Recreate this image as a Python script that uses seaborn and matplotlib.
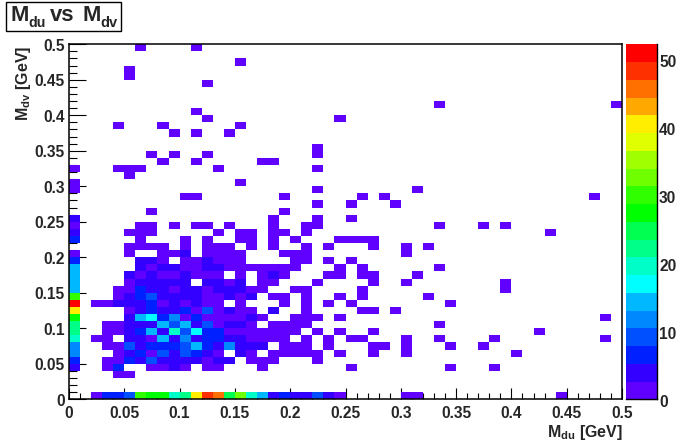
import numpy as np
import pandas as pd
import seaborn as sns
import matplotlib
matplotlib.use("Agg")
import matplotlib.pyplot as plt
from matplotlib.colors import ListedColormap
from matplotlib.patches import Rectangle
from matplotlib.transforms import ScaledTranslation

# ==============================
# DATA: counts per Mdu bin, one dict per Mdv bin (bin 00 = bottom)
# ==============================

mdv_bin_49 = {6: 1, 11: 1}
mdv_bin_48 = {}
mdv_bin_47 = {15: 1}
mdv_bin_46 = {5: 1}
mdv_bin_45 = {5: 1}
mdv_bin_44 = {12: 1}
mdv_bin_43 = {}
mdv_bin_42 = {}
mdv_bin_41 = {33: 1, 49: 1}
mdv_bin_40 = {11: 1}
mdv_bin_39 = {12: 1, 24: 1}
mdv_bin_38 = {4: 1, 8: 1, 15: 1}
mdv_bin_37 = {9: 1, 11: 1, 14: 1}
mdv_bin_36 = {}
mdv_bin_35 = {22: 1}
mdv_bin_34 = {7: 1, 9: 1, 12: 1, 22: 1}
mdv_bin_33 = {8: 1, 11: 1, 17: 1, 18: 1}
mdv_bin_32 = {0: 1, 4: 1, 5: 1, 6: 1, 13: 1, 22: 1}
mdv_bin_31 = {5: 1}
mdv_bin_30 = {0: 1, 15: 1}
mdv_bin_29 = {0: 1, 22: 1, 31: 1}
mdv_bin_28 = {10: 1, 11: 1, 19: 1, 26: 1, 28: 1, 47: 1}
mdv_bin_27 = {22: 1, 25: 1, 29: 1}
mdv_bin_26 = {7: 1, 19: 1}
mdv_bin_25 = {0: 4, 18: 1, 22: 1, 25: 1}
mdv_bin_24 = {0: 1, 6: 1, 7: 1, 9: 1, 11: 1, 12: 1, 14: 1, 18: 1, 21: 1, 22: 1,
              33: 1, 37: 1, 39: 1}
mdv_bin_23 = {0: 3, 5: 1, 6: 1, 7: 1, 13: 1, 15: 1, 16: 1, 18: 1, 19: 1, 21: 1, 43: 1}
mdv_bin_22 = {0: 6, 6: 1, 10: 1, 12: 1, 15: 1, 16: 1, 18: 1, 20: 1, 24: 1, 25: 1,
              26: 1, 27: 1}
mdv_bin_21 = {5: 1, 6: 1, 7: 1, 8: 1, 10: 1, 12: 1, 13: 1, 14: 1, 16: 1, 18: 1,
              21: 1, 23: 1, 27: 1, 30: 1, 32: 1}
mdv_bin_20 = {0: 1, 5: 1, 8: 1, 9: 1, 10: 4, 12: 1, 13: 1, 14: 1, 15: 1, 19: 1,
              20: 1, 21: 1, 30: 1}
mdv_bin_19 = {0: 6, 6: 4, 7: 4, 8: 1, 10: 1, 11: 1, 12: 4, 13: 1, 14: 1, 15: 1,
              20: 1, 21: 1, 23: 1, 25: 1}
mdv_bin_18 = {0: 14, 6: 4, 7: 1, 8: 4, 9: 4, 10: 1, 11: 1, 12: 4, 13: 4, 14: 1,
              15: 1, 16: 1, 17: 1, 18: 1, 19: 1, 20: 1, 24: 1, 26: 1, 33: 1}
mdv_bin_17 = {0: 14, 5: 4, 6: 1, 7: 4, 8: 1, 9: 1, 10: 4, 11: 1, 12: 1, 13: 1,
              15: 1, 17: 1, 18: 4, 19: 1, 23: 1, 24: 1, 26: 1, 27: 1, 31: 1}
mdv_bin_16 = {0: 14, 5: 1, 6: 4, 7: 4, 8: 4, 9: 4, 10: 4, 12: 4, 13: 4, 14: 1,
              15: 4, 17: 1, 18: 1, 22: 1, 27: 1, 30: 1, 39: 1}
mdv_bin_15 = {0: 14, 4: 1, 5: 1, 6: 6, 7: 4, 8: 4, 9: 1, 10: 4, 11: 4, 12: 1,
              13: 4, 14: 4, 15: 4, 16: 1, 17: 1, 20: 1, 21: 1, 26: 1, 39: 1}
mdv_bin_14 = {0: 30, 4: 1, 5: 4, 6: 6, 7: 9, 8: 4, 9: 4, 10: 4, 11: 4, 12: 1,
              13: 1, 14: 4, 15: 1, 16: 4, 18: 1, 19: 1, 21: 1, 24: 1, 26: 1, 32: 1}
mdv_bin_13 = {0: 51, 2: 1, 3: 1, 4: 4, 5: 4, 6: 4, 7: 6, 8: 1, 9: 4, 10: 1,
              11: 4, 12: 1, 13: 1, 15: 1, 19: 1, 21: 1, 23: 1, 25: 1, 34: 1}
mdv_bin_12 = {0: 40, 5: 1, 6: 4, 7: 6, 8: 4, 9: 4, 10: 6, 11: 1, 12: 9, 13: 1,
              14: 4, 15: 1, 16: 1, 18: 4, 21: 1, 26: 1, 27: 1, 29: 1}
mdv_bin_11 = {0: 27, 5: 4, 6: 14, 7: 17, 8: 6, 9: 12, 10: 1, 11: 6, 12: 1, 13: 1,
              14: 1, 15: 1, 16: 4, 17: 1, 20: 1, 21: 1, 22: 1, 24: 1, 48: 1}
mdv_bin_10 = {0: 22, 3: 1, 4: 1, 5: 4, 6: 4, 7: 4, 8: 14, 9: 9, 10: 14, 11: 4,
              12: 9, 13: 1, 14: 4, 15: 4, 16: 1, 18: 1, 19: 1, 20: 1, 21: 1, 33: 1}
mdv_bin_09 = {0: 22, 3: 1, 4: 1, 5: 4, 6: 6, 7: 14, 8: 4, 9: 20, 10: 9, 11: 17,
              12: 6, 13: 6, 14: 1, 15: 1, 16: 1, 17: 1, 18: 1, 19: 1, 20: 1,
              22: 1, 24: 1, 27: 1, 42: 1}
mdv_bin_08 = {0: 20, 2: 1, 3: 1, 5: 4, 6: 4, 7: 1, 8: 14, 9: 4, 10: 12, 11: 4,
              12: 6, 13: 6, 14: 4, 15: 4, 16: 1, 17: 1, 18: 1, 19: 1, 21: 1,
              23: 1, 25: 1, 26: 1, 30: 1, 33: 1, 38: 1, 48: 1}
mdv_bin_07 = {0: 12, 3: 1, 4: 1, 5: 9, 6: 4, 7: 6, 8: 6, 9: 6, 10: 9, 11: 14,
              12: 6, 13: 4, 14: 12, 15: 4, 16: 4, 17: 4, 19: 1, 20: 1, 21: 1,
              23: 1, 27: 1, 28: 1, 30: 1, 34: 1, 37: 1}
mdv_bin_06 = {0: 12, 4: 1, 5: 4, 6: 6, 7: 1, 8: 9, 9: 4, 10: 9, 11: 6, 12: 4,
              13: 1, 15: 4, 16: 1, 18: 1, 19: 1, 20: 1, 21: 1, 22: 1, 24: 1,
              27: 1, 30: 1, 40: 1}
mdv_bin_05 = {0: 6, 3: 1, 4: 1, 5: 6, 6: 4, 7: 9, 8: 4, 9: 4, 10: 4, 11: 4, 12: 1,
              13: 4, 14: 4, 16: 1, 17: 1, 18: 1, 22: 1}
mdv_bin_04 = {0: 4, 3: 1, 4: 6, 7: 1, 8: 1, 9: 4, 10: 1, 12: 1, 13: 1, 17: 1,
              25: 1, 34: 1, 38: 1}
mdv_bin_03 = {4: 1, 5: 1}
mdv_bin_02 = {}
mdv_bin_01 = {}
mdv_bin_00 = {2: 1, 3: 6, 4: 6, 5: 9, 6: 30, 7: 27, 8: 27, 9: 20, 10: 22, 11: 40,
              12: 48, 13: 46, 14: 25, 15: 33, 16: 20, 17: 14, 18: 4, 19: 6, 20: 4,
              21: 4, 22: 9, 23: 4, 24: 1, 30: 1, 31: 1, 44: 1}

palette_colors = ["#6000ff", "#3300ff", "#0020ff", "#0050ff", "#0088ff",
                  "#00b8ff", "#00ffff", "#00ffc8", "#00ff88", "#00ff50",
                  "#00ff00", "#30ff00", "#70ff00", "#a0ff00", "#e0ff00",
                  "#ffee00", "#ffa800", "#ff7000", "#ff3000", "#ff0000"]

axis_labels = ["0", "0.05", "0.1", "0.15", "0.2", "0.25", "0.3", "0.35", "0.4", "0.45", "0.5"]
count_ticks = [0, 10, 20, 30, 40, 50]
count_max = 52.2

# ==============================
# BUILD TABLE
# ==============================

mdv_rows = [mdv_bin_00, mdv_bin_01, mdv_bin_02, mdv_bin_03, mdv_bin_04,
            mdv_bin_05, mdv_bin_06, mdv_bin_07, mdv_bin_08, mdv_bin_09,
            mdv_bin_10, mdv_bin_11, mdv_bin_12, mdv_bin_13, mdv_bin_14,
            mdv_bin_15, mdv_bin_16, mdv_bin_17, mdv_bin_18, mdv_bin_19,
            mdv_bin_20, mdv_bin_21, mdv_bin_22, mdv_bin_23, mdv_bin_24,
            mdv_bin_25, mdv_bin_26, mdv_bin_27, mdv_bin_28, mdv_bin_29,
            mdv_bin_30, mdv_bin_31, mdv_bin_32, mdv_bin_33, mdv_bin_34,
            mdv_bin_35, mdv_bin_36, mdv_bin_37, mdv_bin_38, mdv_bin_39,
            mdv_bin_40, mdv_bin_41, mdv_bin_42, mdv_bin_43, mdv_bin_44,
            mdv_bin_45, mdv_bin_46, mdv_bin_47, mdv_bin_48, mdv_bin_49]

counts = pd.DataFrame(0, index=range(50), columns=range(50))
for j, row in enumerate(mdv_rows):
    for i, n in row.items():
        counts.loc[j, i] = n

# ==============================
# PLOT
# ==============================

W, H = 692, 444

sns.set_style("white")
plt.rcParams["font.family"] = ["Liberation Sans", "DejaVu Sans"]
plt.rcParams["font.weight"] = "bold"
plt.rcParams["mathtext.fontset"] = "custom"
plt.rcParams["mathtext.bf"] = "Liberation Sans:bold"
plt.rcParams["mathtext.rm"] = "Liberation Sans:bold"

fig = plt.figure(figsize=(W / 100, H / 100), dpi=100, facecolor="white")
ax = fig.add_axes([69 / W, 1 - 399.3 / H, 553 / W, 355 / H])
cax = fig.add_axes([626 / W, 1 - 399.3 / H, 31 / W, 355 / H])

sns.heatmap(counts, ax=ax, cbar_ax=cax, mask=counts == 0,
            cmap=ListedColormap(palette_colors), vmin=0, vmax=count_max,
            square=False)
ax.invert_yaxis()

for spine in ax.spines.values():
    spine.set_visible(True)
    spine.set_color("black")
    spine.set_linewidth(1.1)

major = list(range(0, 51, 5))
ax.set_xticks(major)
ax.set_xticklabels(axis_labels, rotation=0, fontsize=11.2, fontweight="bold")
ax.set_yticks(major)
ax.set_yticklabels(axis_labels, rotation=0, fontsize=11.2, fontweight="bold")
ax.set_xticks(range(51), minor=True)
ax.set_yticks(range(51), minor=True)
ax.set_xlabel("")
ax.set_ylabel("")

ax.tick_params(axis="x", which="major", direction="in", length=8, width=0.8,
               color="black", pad=5, bottom=True)
ax.tick_params(axis="x", which="minor", direction="in", length=4, width=0.8,
               color="black", bottom=True)
ax.tick_params(axis="y", which="major", direction="in", length=12, width=0.8,
               color="black", pad=3, left=True)
ax.tick_params(axis="y", which="minor", direction="in", length=6, width=0.8,
               color="black", left=True)

# palette
cbar = ax.collections[0].colorbar
cbar.outline.set_visible(False)
cbar.set_ticks(count_ticks)
cbar.set_ticklabels([str(c) for c in count_ticks])
cax.tick_params(axis="y", which="both", right=True, direction="in", length=12.5,
                width=0.8, color="black", pad=1.5, labelsize=11.2)
for t in cax.get_yticklabels():
    t.set_fontweight("bold")
for side in ["right", "bottom"]:
    cax.spines[side].set_visible(True)
    cax.spines[side].set_color("black")
    cax.spines[side].set_linewidth(1.0)

# root puts the vertical axis labels a bit under the tick
down = ScaledTranslation(0, -2 / 100, fig.dpi_scale_trans)
for t in ax.get_yticklabels() + cax.get_yticklabels():
    t.set_transform(t.get_transform() + down)

# axis titles
fig.text(622.5 / W, 1 - 432 / H, r"$\mathbf{M_{du}}$ [GeV]", ha="right", va="center",
         fontsize=11.5, fontweight="bold")
fig.text(23.5 / W, 1 - 46 / H, r"$\mathbf{M_{dv}}$ [GeV]", ha="center", va="top",
         rotation=90, fontsize=11.5, fontweight="bold")

# title box
fig.add_artist(Rectangle((5.5 / W, 1 - 31.5 / H), 115.5 / W, 29.5 / H,
                         transform=fig.transFigure, facecolor="white",
                         edgecolor="black", linewidth=1.0))
title_parts = [("M", 10.5, 21, 15.8), ("du", 28.5, 27, 10.2), ("vs", 50, 21, 15.8),
               ("M", 82, 21, 15.8), ("dv", 100, 27, 10.5)]
for s, px, py, size in title_parts:
    fig.text(px / W, 1 - py / H, s, ha="left", va="baseline", fontsize=size,
             fontweight="bold")

fig.savefig("out.png", dpi=100)
